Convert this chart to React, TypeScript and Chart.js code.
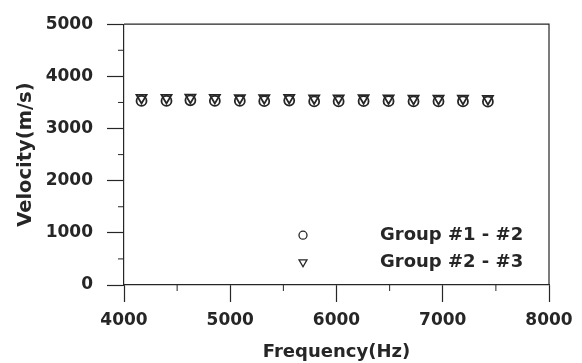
import React, { useEffect, useRef } from "react";
import { Chart, registerables } from "chart.js";

Chart.register(...registerables);

// Measurement frequencies (Hz)
const frequencies = [4165, 4400, 4625, 4855, 5090, 5320, 5555, 5790, 6020, 6255, 6490, 6725, 6960, 7190, 7425];
// Phase velocity between sensor groups (m/s)
const group12 = [3530, 3530, 3540, 3530, 3530, 3525, 3535, 3520, 3520, 3525, 3525, 3520, 3520, 3520, 3515];
const group23 = [3590, 3590, 3595, 3590, 3585, 3585, 3590, 3580, 3580, 3585, 3580, 3575, 3575, 3575, 3570];
const seriesNames = ["Group #1 - #2", "Group #2 - #3"];

const xTicks = [4000, 5000, 6000, 7000, 8000];
const yTicks = [0, 1000, 2000, 3000, 4000, 5000];

const FONT = "'DejaVu Sans', 'Liberation Sans', Arial, sans-serif";
const INK = "#262626";

const framePlugin = {
  id: "frameAndLegend",
  afterDraw(chart: any) {
    const { ctx, chartArea } = chart;
    const { left, right, top, bottom } = chartArea;
    ctx.save();
    ctx.strokeStyle = INK;
    ctx.lineWidth = 1.2;
    // top and right frame lines
    ctx.beginPath();
    ctx.moveTo(left, top);
    ctx.lineTo(right, top);
    ctx.lineTo(right, bottom);
    ctx.stroke();

    // minor ticks every 500 units, pointing outward
    const xs = chart.scales.x;
    const ys = chart.scales.y;
    ctx.lineWidth = 1;
    ctx.beginPath();
    for (let v = 4500; v < 8000; v += 1000) {
      const px = xs.getPixelForValue(v);
      ctx.moveTo(px, bottom);
      ctx.lineTo(px, bottom + 6);
    }
    for (let v = 500; v < 5000; v += 1000) {
      const py = ys.getPixelForValue(v);
      ctx.moveTo(left, py);
      ctx.lineTo(left - 6, py);
    }
    ctx.stroke();

    // legend
    const markX = left + 179;
    const textX = left + 256;
    const rows = [top + 211, top + 238];
    ctx.lineWidth = 1.3;
    ctx.beginPath();
    ctx.arc(markX, rows[0], 4, 0, Math.PI * 2);
    ctx.stroke();
    ctx.beginPath();
    const r = 4.6;
    ctx.moveTo(markX - r * 0.866, rows[1] - r * 0.5);
    ctx.lineTo(markX + r * 0.866, rows[1] - r * 0.5);
    ctx.lineTo(markX, rows[1] + r);
    ctx.closePath();
    ctx.stroke();

    ctx.fillStyle = INK;
    ctx.font = `bold 18px ${FONT}`;
    ctx.textAlign = "left";
    ctx.textBaseline = "middle";
    ctx.fillText(seriesNames[0], textX, rows[0]);
    ctx.fillText(seriesNames[1], textX, rows[1]);
    ctx.restore();
  },
};

export default function App() {
  const canvasRef = useRef<HTMLCanvasElement | null>(null);

  useEffect(() => {
    const canvas = canvasRef.current;
    if (!canvas) return;
    const chart = new Chart(canvas, {
      type: "scatter",
      data: {
        datasets: [
          {
            label: seriesNames[0],
            data: frequencies.map((f, i) => ({ x: f, y: group12[i] })),
            pointStyle: "circle",
            pointRadius: 5,
            borderColor: INK,
            backgroundColor: "rgba(0,0,0,0)",
            borderWidth: 1.8,
          },
          {
            label: seriesNames[1],
            data: frequencies.map((f, i) => ({ x: f, y: group23[i] })),
            pointStyle: "triangle",
            rotation: 180,
            pointRadius: 5.8,
            borderColor: INK,
            backgroundColor: "rgba(0,0,0,0)",
            borderWidth: 1.8,
          },
        ],
      },
      options: {
        animation: false,
        responsive: false,
        maintainAspectRatio: false,
        layout: { padding: { top: 16, right: 33, left: 0, bottom: 0 } },
        plugins: { legend: { display: false }, tooltip: { enabled: false } },
        scales: {
          x: {
            type: "linear",
            min: 4000,
            max: 8000,
            afterBuildTicks: (scale: any) => {
              scale.ticks = xTicks.map((v) => ({ value: v }));
            },
            afterFit: (scale: any) => {
              scale.height = 78;
            },
            grid: {
              drawOnChartArea: false,
              drawTicks: true,
              tickLength: 17,
              tickColor: INK,
              tickWidth: 1.2,
            },
            border: { display: true, color: INK, width: 1.2 },
            ticks: {
              autoSkip: false,
              maxRotation: 0,
              padding: 8,
              color: INK,
              font: { family: FONT, size: 17, weight: "bold" },
              callback: (v: any) => String(v),
            },
            title: {
              display: true,
              text: "Frequency(Hz)",
              color: INK,
              font: { family: FONT, size: 18, weight: "bold" },
              padding: { top: 0, bottom: 0 },
            },
          },
          y: {
            type: "linear",
            min: 0,
            max: 5000,
            afterBuildTicks: (scale: any) => {
              scale.ticks = yTicks.map((v) => ({ value: v }));
            },
            afterFit: (scale: any) => {
              scale.width = 124;
            },
            grid: {
              drawOnChartArea: false,
              drawTicks: true,
              tickLength: 17,
              tickColor: INK,
              tickWidth: 1.2,
            },
            border: { display: true, color: INK, width: 1.2 },
            ticks: {
              autoSkip: false,
              padding: 14,
              color: INK,
              font: { family: FONT, size: 17, weight: "bold" },
              callback: (v: any) => String(v),
            },
            title: {
              display: true,
              text: "Velocity(m/s)",
              color: INK,
              font: { family: FONT, size: 19.5, weight: "bold" },
              padding: { top: 14, bottom: 0 },
            },
          },
        },
      },
      plugins: [framePlugin],
    });
    return () => chart.destroy();
  }, []);

  return (
    <div style={{ position: "fixed", left: 0, top: 0, width: 582, height: 363, background: "#fff" }}>
      <canvas ref={canvasRef} width={582} height={363} />
    </div>
  );
}
